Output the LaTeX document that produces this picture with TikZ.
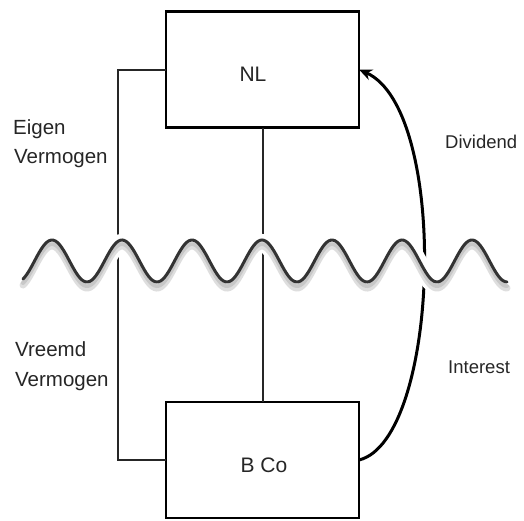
\documentclass[tikz,border=0pt]{standalone}
\usepackage{fontspec}
\setmainfont{Liberation Sans}
\usetikzlibrary{arrows.meta}
\tikzset{
  box/.style={draw=black, line width=2.6pt, fill=white, minimum width=193pt, minimum height=116pt, inner sep=0pt, outer sep=0pt},
  boxtext/.style={anchor=base, inner sep=0pt, text=black!85, font=\fontsize{21}{25}\selectfont},
  lefttext/.style={anchor=base west, inner sep=0pt, text=black!85, font=\fontsize{20.5}{25}\selectfont},
  righttext/.style={anchor=base west, inner sep=0pt, text=black!85, font=\fontsize{18.5}{22}\selectfont},
  link/.style={draw=black!85, line width=2pt},
  flow/.style={draw=black, line width=3pt, -{Stealth[length=13pt,width=11pt]}},
  wave/.style={draw=black!80, line width=3pt, line cap=round},
}
\begin{document}
\begin{tikzpicture}[x=1pt,y=-1pt]
\useasboundingbox (0,0) rectangle (524,520);
% boxes
\node[box] (nl) at (262.5,69.5) {};
\node[box] (bco) at (262.5,460) {};
\node[boxtext] (nltext) at (253,81.5) {NL};
\node[boxtext] (bcotext) at (264,472) {B Co};
% connectors
\coordinate (lt) at (118,69.5);
\draw[link] (nl.west) -- (lt) |- (bco.west);
\draw[link] (nl.south) -- (bco.north);
\draw[flow] (bco.east) .. controls (440,440) and (450,110) .. (nl.east);
% wave with halo and shadow
\draw[white, line width=18pt] plot[domain=23:507, samples=240] (\x, {264-21*cos((\x-52)/70*360)});
\draw[black!25, line width=7pt, opacity=0.5, line cap=round] plot[domain=23:507, samples=240] (\x, {267-21*cos((\x-52)/70*360)});
\draw[black!30, line width=4pt, opacity=0.5, line cap=round] plot[domain=23:507, samples=240] (\x, {265-21*cos((\x-52)/70*360)});
\draw[wave] plot[domain=23:507, samples=240] (\x, {261-21*cos((\x-52)/70*360)});
% labels
\node[lefttext] (eig1) at (13,134.5) {Eigen};
\node[lefttext] (eig2) at (14,163) {Vermogen};
\node[lefttext] (vre1) at (15,356) {Vreemd};
\node[lefttext] (vre2) at (15,386) {Vermogen};
\node[righttext] (div) at (445,148) {Dividend};
\node[righttext] (int) at (448,373) {Interest};
\end{tikzpicture}
\end{document}
